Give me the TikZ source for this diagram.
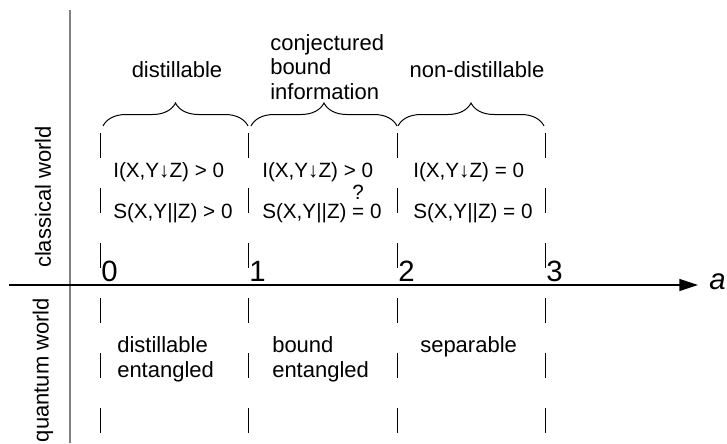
\documentclass[tikz,border=0pt]{standalone}
\usepackage{fontspec}
\setmainfont{Liberation Sans}
\usetikzlibrary{decorations.pathreplacing,arrows.meta}
\begin{document}
\begin{tikzpicture}[x=0.75pt,y=-0.75pt,
  lbl/.style={font=\fontsize{16.5}{18.4}\selectfont, inner sep=0pt},
  qlbl/.style={font=\fontsize{16.5}{18.8}\selectfont, inner sep=0pt, anchor=west, align=left},
  cond/.style={font=\fontsize{15.5}{18}\selectfont, inner sep=0pt, anchor=west},
  num/.style={font=\fontsize{22}{26}\selectfont, inner sep=0pt, anchor=west},
  sepline/.style={line width=0.75pt, dash pattern=on 18.75pt off 22.5pt},
  brc/.style={decorate, decoration={brace, amplitude=17.25pt}, line width=0.75pt},
  axisline/.style={line width=1pt},
  vaxis/.style={line width=1.1pt, draw=black!50}]
\useasboundingbox (0,0) rectangle (727,443);
% axes
\draw[vaxis] (70,10) -- (70,443);
\coordinate (axstart) at (9,285);
\coordinate (axend) at (698,285);
\draw[axisline, -{Triangle[length=14pt,width=9pt]}] (axstart) -- (axend);
\node[font=\fontsize{22}{26}\selectfont\itshape, inner sep=0pt, anchor=west] (alpha) at (709,282) {a};
% separators
\foreach \x/\n in {100/s0,248/s1,397/s2,545/s3}{
  \coordinate (\n top) at (\x,133);
  \coordinate (\n bot) at (\x,443);
  \draw[sepline] (\n top) -- (\n bot);
}
% braces
\draw[brc] (103,126) -- (248,126);
\draw[brc] (251,126) -- (397,126);
\draw[brc] (398,126) -- (544,126);
% top labels
\node[lbl] (tdist) at (177,70) {distillable};
\node[lbl, anchor=west, align=left] (tconj) at (270,67) {conjectured\\bound\\information};
\node[lbl] (tnon) at (477,70) {non-distillable};
% conditions
\node[cond] (i0) at (113,172) {I(X,Y↓Z) > 0};
\node[cond] (c0) at (113,213) {S(X,Y||Z) > 0};
\node[cond] (i1) at (262,172) {I(X,Y↓Z) > 0};
\node[cond] (c1) at (262,213) {S(X,Y||Z) = 0};
\node[font=\fontsize{15.5}{18}\selectfont, inner sep=0pt] (q1) at (358,192) {?};
\node[cond] (i2) at (413,172) {I(X,Y↓Z) = 0};
\node[cond] (c2) at (413,213) {S(X,Y||Z) = 0};
% numbers
\node[num] (n0) at (101,271) {0};
\node[num] (n1) at (249,271) {1};
\node[num] (n2) at (398,271) {2};
\node[num] (n3) at (546,271) {3};
% quantum labels
\node[qlbl] (qd) at (117,359) {distillable\\entangled};
\node[qlbl] (qb) at (272,359) {bound\\entangled};
\node[qlbl] (qs) at (420,347) {separable};
% side labels
\node[lbl, rotate=90] (cw) at (43,197) {classical world};
\node[lbl, rotate=90] (qw) at (43,370) {quantum world};
\end{tikzpicture}
\end{document}
